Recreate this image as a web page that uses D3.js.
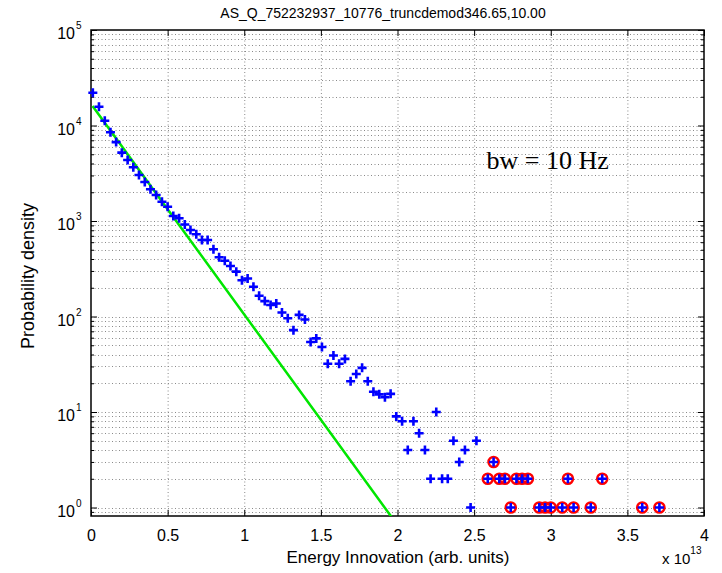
<!DOCTYPE html>
<html>
<head>
<meta charset="utf-8">
<script src="https://cdn.jsdelivr.net/npm/d3@7"></script>
<style>
  body { margin: 0; background: #fff; }
  text { font-family: "Liberation Sans", Arial, sans-serif; fill: #000; }
</style>
</head>
<body>
<svg class="chart"></svg>
<script>
// histogram bins, x in units of 1e13
var binX = [0.012, 0.052, 0.090, 0.127, 0.164, 0.201, 0.239, 0.276, 0.313, 0.351,
  0.388, 0.425, 0.463, 0.500, 0.537, 0.575, 0.612, 0.649, 0.687, 0.724,
  0.761, 0.799, 0.836, 0.873, 0.910, 0.948, 0.985, 1.022, 1.060, 1.097,
  1.134, 1.172, 1.209, 1.246, 1.284, 1.321, 1.358, 1.396, 1.433, 1.470,
  1.507, 1.545, 1.582, 1.619, 1.657, 1.694, 1.731, 1.769, 1.806, 1.843,
  1.881, 1.918, 1.955, 1.992, 2.030, 2.067, 2.104, 2.141, 2.179, 2.216,
  2.253, 2.291, 2.328, 2.365, 2.403, 2.440, 2.477, 2.515, 2.589, 2.627,
  2.664, 2.701, 2.739, 2.776, 2.813, 2.851, 2.925, 2.963, 3.000, 3.075,
  3.112, 3.149, 3.261, 3.336, 3.597, 3.709];
var binY = [22000, 15700, 11200, 8500, 6700, 5200, 4350, 3650, 3030, 2560,
  2150, 1870, 1590, 1410, 1130, 1070, 920, 805, 726, 633,
  633, 506, 417, 384, 338, 295, 240, 250, 205, 165,
  145, 132, 137, 110, 96, 72, 104, 93, 54, 59,
  48, 32, 39, 32, 36, 21, 25, 29, 21, 16.3,
  15.3, 14.3, 15.5, 9, 8, 4, 8, 6, 4, 2,
  10, 2, 2, 5, 3, 4, 1, 5, 2, 3,
  2, 2, 1, 2, 2, 2, 1, 1, 1, 1,
  2, 1, 1, 2, 1, 1];
// bins beyond this energy are circled
var circleFrom = 2.55;

var fitX = [0.01, 0.5, 1.0, 1.5, 1.96];
var fitY = [16000, 1330, 105, 8.3, 0.80];

var xTicks = [0, 0.5, 1, 1.5, 2, 2.5, 3, 3.5, 4];
var yTicks = [1, 10, 100, 1000, 10000, 100000];
var yMinor = [];
yTicks.forEach(function(t) { if (t < 100000) for (var k = 2; k <= 9; k++) yMinor.push(t * k); });
yMinor.unshift(0.9);

var title = "AS_Q_752232937_10776_truncdemod346.65,10.00";

var W = 722, H = 573;
var margin = {top: 30, right: 18, bottom: 57, left: 91},
    width = W - margin.left - margin.right,
    height = H - margin.top - margin.bottom;

var x = d3.scaleLinear().domain([0, 4]).range([0, width]);
var y = d3.scaleLog().domain([0.815, 100000]).range([height, 0]);

var svg = d3.select(".chart").attr("width", W).attr("height", H);
var main = svg.append("g")
    .attr("transform", "translate(" + margin.left + "," + margin.top + ")");

svg.append("defs").append("clipPath").attr("id", "clip")
  .append("rect").attr("width", width).attr("height", height);

// grid
var grid = main.append("g")
    .attr("stroke", "#8a8a8a").attr("stroke-width", 1).attr("stroke-dasharray", "1,2.5");
grid.selectAll(".gx").data(xTicks.slice(1, -1)).enter().append("line")
    .attr("x1", function(d) { return x(d) + 0.5; }).attr("x2", function(d) { return x(d) + 0.5; })
    .attr("y1", 0).attr("y2", height);
grid.selectAll(".gy").data(yTicks.slice(0, -1).concat(yMinor)).enter().append("line")
    .attr("x1", 0).attr("x2", width)
    .attr("y1", function(d) { return Math.round(y(d)) + 0.5; })
    .attr("y2", function(d) { return Math.round(y(d)) + 0.5; });

// axes: ticks inside on all four sides
function styleAxis(g) {
  g.select(".domain").remove();
  g.selectAll(".tick line").attr("stroke", "#000").attr("stroke-width", 1);
}
main.append("g").attr("transform", "translate(0," + height + ")")
    .call(d3.axisBottom(x).tickValues(xTicks).tickSize(-6).tickFormat(d3.format("")))
    .call(styleAxis)
    .selectAll("text").attr("y", 14).style("font-size", "16px")
    .style("font-family", "Liberation Sans, Arial, sans-serif");
main.append("g")
    .call(d3.axisTop(x).tickValues(xTicks).tickSize(-6).tickFormat(""))
    .call(styleAxis);

var yl = main.append("g").call(d3.axisLeft(y).tickValues(yTicks).tickSize(-6).tickFormat(""))
    .call(styleAxis);
main.append("g").call(d3.axisLeft(y).tickValues(yMinor).tickSize(-3).tickFormat("")).call(styleAxis);
main.append("g").attr("transform", "translate(" + width + ",0)")
    .call(d3.axisRight(y).tickValues(yTicks).tickSize(-6).tickFormat("")).call(styleAxis);
main.append("g").attr("transform", "translate(" + width + ",0)")
    .call(d3.axisRight(y).tickValues(yMinor).tickSize(-3).tickFormat("")).call(styleAxis);

yl.selectAll(".tick").append("text")
    .attr("x", -16).attr("dy", "0.55em").attr("text-anchor", "end")
    .style("font-size", "16px").style("fill", "#000")
    .text("10");
yl.selectAll(".tick").append("text")
    .attr("x", -15).attr("dy", "-0.15em").attr("text-anchor", "start")
    .style("font-size", "10px").style("fill", "#000")
    .text(function(d) { return Math.round(Math.log10(d)); });

main.append("rect").attr("width", width).attr("height", height)
    .attr("fill", "none").attr("stroke", "#000").attr("stroke-width", 1.5);

// fit line
var fitData = fitX.map(function(d, i) { return [d, fitY[i]]; });
main.append("path").datum(fitData)
    .attr("clip-path", "url(#clip)")
    .attr("fill", "none").attr("stroke", "#00e600").attr("stroke-width", 2.5)
    .attr("d", d3.line().x(function(d) { return x(d[0]); }).y(function(d) { return y(d[1]); }));

var pts = binX.map(function(d, i) { return [d, binY[i]]; });

// red circles for sparse tail
main.append("g").selectAll("circle")
    .data(pts.filter(function(d) { return d[0] > circleFrom; }))
  .enter().append("circle")
    .attr("cx", function(d) { return x(d[0]); })
    .attr("cy", function(d) { return y(d[1]); })
    .attr("r", 5)
    .attr("fill", "none").attr("stroke", "#ff0000").attr("stroke-width", 2.6);

// blue plus markers
main.append("g").selectAll("path")
    .data(pts)
  .enter().append("path")
    .attr("transform", function(d) { return "translate(" + x(d[0]) + "," + y(d[1]) + ")"; })
    .attr("d", "M-4.5,0H4.5M0,-4.5V4.5")
    .attr("stroke", "#0000ff").attr("stroke-width", 2.6).attr("fill", "none");

// texts
svg.append("text").attr("x", 383).attr("y", 18).attr("text-anchor", "middle")
    .style("font-size", "14px").text(title);

svg.append("text").attr("x", 398).attr("y", 563).attr("text-anchor", "middle")
    .style("font-size", "17px").text("Energy Innovation (arb. units)");

var sx = svg.append("text").attr("x", 662).attr("y", 564).style("font-size", "15px");
sx.append("tspan").text("x 10");
sx.append("tspan").attr("dy", -10).style("font-size", "10px").text("13");

svg.append("text")
    .attr("transform", "translate(34,276) rotate(-90)")
    .attr("text-anchor", "middle")
    .style("font-size", "18px").text("Probability density");

main.append("text").attr("x", 486.5 - margin.left).attr("y", 169 - margin.top)
    .style("font-family", "Liberation Serif, Times New Roman, serif")
    .style("font-size", "26px").text("bw = 10 Hz");
</script>
</body>
</html>
